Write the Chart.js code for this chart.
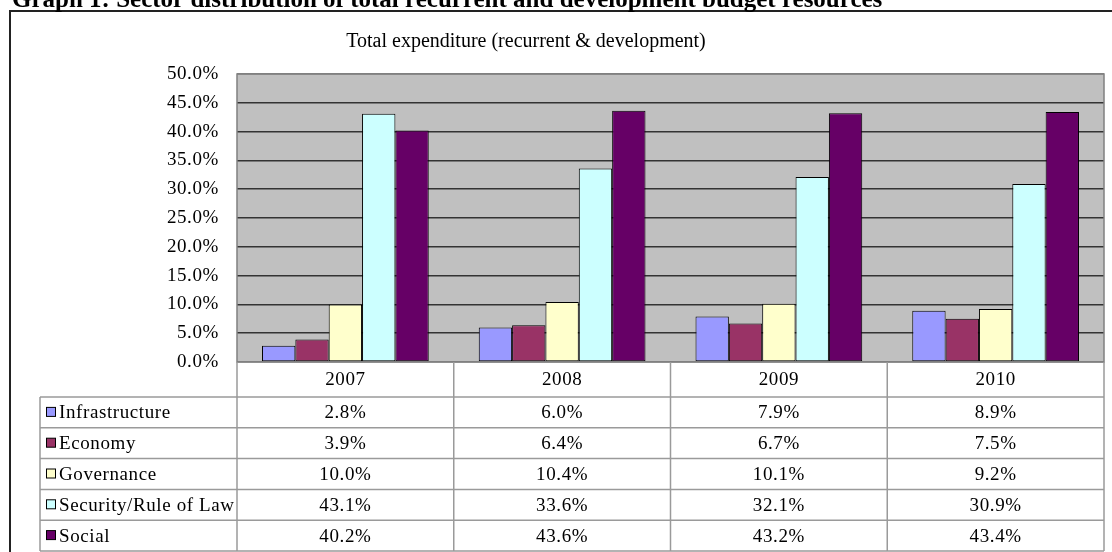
<!DOCTYPE html>
<html>
<head>
<meta charset="utf-8">
<script src="https://cdn.jsdelivr.net/npm/chart.js@4/dist/chart.umd.min.js"></script>
<style>
  html, body { margin: 0; padding: 0; background: #fff; }
  #wrap { position: relative; width: 1112px; height: 552px; overflow: hidden; }
  #frame { position: absolute; left: 9px; top: 10px; width: 1200px; height: 700px; border: 2px solid #222; }
  #c { position: absolute; left: 0; top: 0; }
</style>
</head>
<body>
<div id="wrap">
  <div id="frame"></div>
  <canvas id="c" width="1112" height="552"></canvas>
</div>
<script>
const heading = 'Graph 1: Sector distribution of total recurrent and development budget resources';
const chartTitle = 'Total expenditure (recurrent & development)';
const years = ['2007', '2008', '2009', '2010'];
const sectors = ['Infrastructure', 'Economy', 'Governance', 'Security/Rule of Law', 'Social'];
const infrastructure = [2.8, 6.0, 7.9, 8.9];
const economy        = [3.9, 6.4, 6.7, 7.5];
const governance     = [10.0, 10.4, 10.1, 9.2];
const security       = [43.1, 33.6, 32.1, 30.9];
const social         = [40.2, 43.6, 43.2, 43.4];
const sectorColors = ['#9999ff', '#993366', '#ffffcc', '#ccffff', '#660066'];
const yMin = 0, yMax = 50, yStep = 5;

const SERIF = "'Liberation Serif', 'Times New Roman', serif";
const series = [infrastructure, economy, governance, security, social];

// plot box + title + data table, drawn around the library's own scales
const tablePlugin = {
  id: 'excelTable',
  beforeDraw(chart) {
    const { ctx, chartArea: a } = chart;
    ctx.save();
    ctx.fillStyle = '#c0c0c0';
    ctx.fillRect(a.left, a.top, a.right - a.left, a.bottom - a.top);
    ctx.restore();
    ctx.letterSpacing = '0.6px';
  },
  afterDraw(chart) {
    const { ctx, chartArea: a } = chart;
    const x = chart.scales.x;
    const colW = (a.right - a.left) / years.length;
    const headH = 35, rowH = 30.8, labelLeft = 40;
    const tableBottom = a.bottom + headH + rowH * sectors.length;

    ctx.save();
    // plot outline
    ctx.strokeStyle = '#808080';
    ctx.lineWidth = 1.5;
    ctx.strokeRect(a.left, a.top, a.right - a.left, a.bottom - a.top);

    // heading (cut at top) and chart title
    ctx.letterSpacing = '0px';
    ctx.fillStyle = '#000';
    ctx.textBaseline = 'alphabetic';
    ctx.textAlign = 'left';
    ctx.font = 'bold 25px ' + SERIF;
    ctx.fillText(heading, 12, 7);
    ctx.textAlign = 'center';
    ctx.font = '20px ' + SERIF;
    ctx.fillText(chartTitle, 526, 47);

    // table grid
    ctx.strokeStyle = '#9a9a9a';
    ctx.lineWidth = 1.5;
    ctx.beginPath();
    for (let i = 0; i <= years.length; i++) {
      const px = i < years.length ? x.getPixelForValue(i) - colW / 2 : x.getPixelForValue(years.length - 1) + colW / 2;
      ctx.moveTo(px, a.bottom);
      ctx.lineTo(px, tableBottom);
    }
    ctx.moveTo(labelLeft, a.bottom + headH);
    ctx.lineTo(labelLeft, tableBottom);
    for (let r = 0; r <= sectors.length; r++) {
      const py = a.bottom + headH + rowH * r;
      ctx.moveTo(labelLeft, py);
      ctx.lineTo(a.right, py);
    }
    ctx.stroke();

    // texts
    ctx.letterSpacing = '0.6px';
    ctx.font = '19px ' + SERIF;
    ctx.textBaseline = 'middle';
    ctx.textAlign = 'center';
    years.forEach((yr, i) => ctx.fillText(yr, x.getPixelForValue(i), a.bottom + headH / 2 + 1));
    sectors.forEach((name, r) => {
      const cy = a.bottom + headH + rowH * r + rowH / 2;
      ctx.textAlign = 'center';
      series[r].forEach((v, i) => ctx.fillText(v.toFixed(1) + '%', x.getPixelForValue(i), cy + 1));
      ctx.fillStyle = sectorColors[r];
      ctx.fillRect(46.5, cy - 5, 9, 9);
      ctx.strokeStyle = '#000';
      ctx.lineWidth = 1;
      ctx.strokeRect(46.5, cy - 5, 9, 9);
      ctx.fillStyle = '#000';
      ctx.textAlign = 'left';
      ctx.fillText(name, 59, cy + 1);
    });
    ctx.restore();
  }
};

new Chart(document.getElementById('c'), {
  type: 'bar',
  data: {
    labels: years,
    datasets: sectors.map((name, i) => ({
      label: name,
      data: series[i],
      backgroundColor: sectorColors[i],
      borderColor: '#000',
      borderWidth: 1,
      borderSkipped: false,
      categoryPercentage: 5 / 6.5,
      barPercentage: 1
    }))
  },
  options: {
    responsive: false,
    animation: false,
    events: [],
    layout: { padding: { left: 0, top: 74, right: 8, bottom: 190 } },
    plugins: { legend: { display: false }, title: { display: false }, tooltip: { enabled: false } },
    scales: {
      x: { display: false, grid: { display: false } },
      y: {
        min: yMin, max: yMax,
        afterFit: s => { s.width = 237; },
        border: { display: false },
        grid: {
          drawTicks: false,
          lineWidth: 1.5,
          color: c => (c.tick.value === yMin || c.tick.value === yMax) ? '#808080' : '#333333'
        },
        ticks: {
          stepSize: yStep,
          padding: 18,
          color: '#000',
          font: { family: SERIF, size: 19 },
          callback: v => v.toFixed(1) + '%'
        }
      }
    }
  },
  plugins: [tablePlugin]
});
</script>
</body>
</html>
